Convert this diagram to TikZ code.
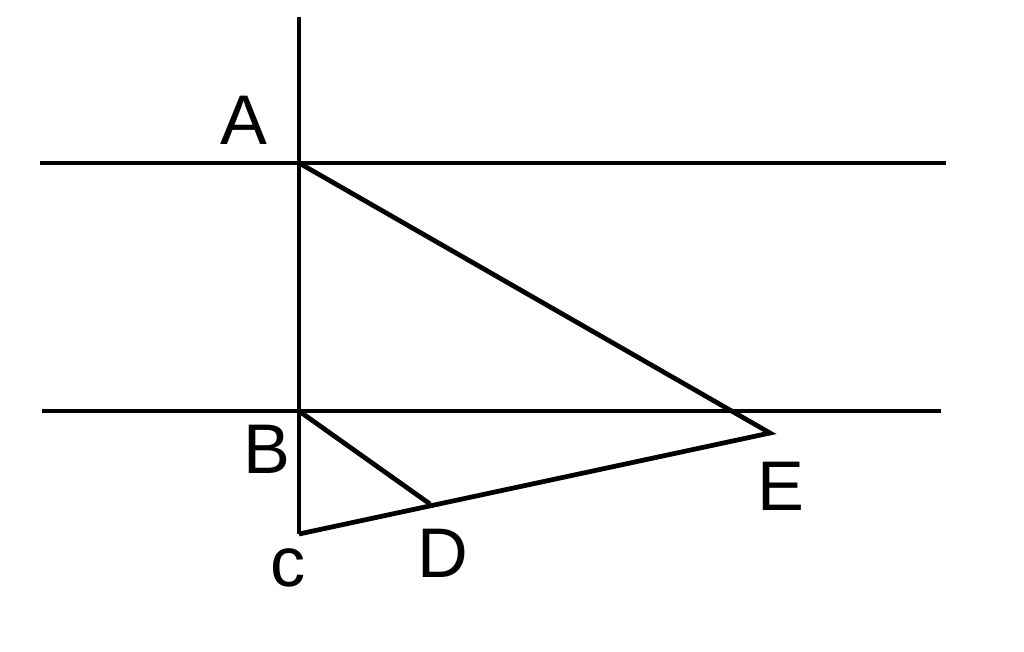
\documentclass[tikz,border=0pt]{standalone}
\usepackage{fontspec}
\setsansfont{Liberation Sans}
\usepackage{tikz}
\tikzstyle{myLine}=[line width=2.7pt, line cap=butt]
\tikzstyle{myLabel}=[font=\fontsize{40}{40}\selectfont\sffamily, inner sep=0pt]

\begin{document}
\begin{tikzpicture}[x=0.02cm, y=-0.02cm]
   \useasboundingbox (0,0) rectangle (1024,652);

   % Points of the figure
   \coordinate (A) at (299,163);
   \coordinate (B) at (299,411);
   \coordinate (C) at (299,534);
   \coordinate (D) at (430,504);
   \coordinate (E) at (770,433);
   \coordinate (top) at (299,17);
   \coordinate (l1w) at (40,163);
   \coordinate (l1e) at (946,163);
   \coordinate (l2w) at (42,411);
   \coordinate (l2e) at (941,411);

   % Parallel lines and the transversal
   \draw[myLine] (l1w) -- (l1e);
   \draw[myLine] (l2w) -- (l2e);
   \draw[myLine] (top) -- (C);

   % Triangles
   \draw[myLine, line join=miter] (A) -- (E) -- (C);
   \draw[myLine] (B) -- (D);

   % Labels
   \node[myLabel] (lA) at (244,120) {A};
   \node[myLabel] (lB) at (267,449) {B};
   \node[myLabel] (lC) at (288,568) {c};
   \node[myLabel] (lD) at (443,553) {D};
   \node[myLabel] (lE) at (781,486) {E};

\end{tikzpicture}
\end{document}
